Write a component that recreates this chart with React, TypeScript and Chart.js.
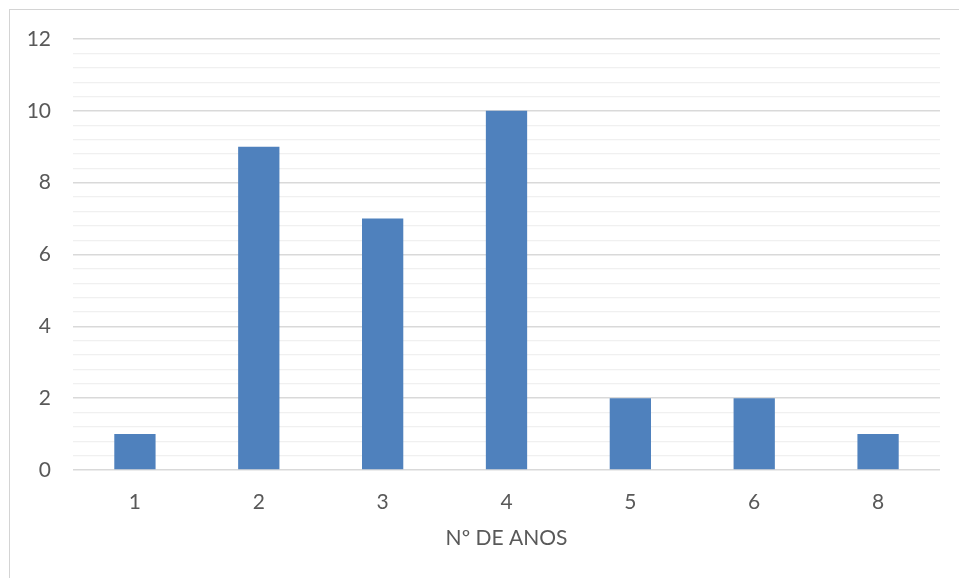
import React, { useEffect, useRef } from "react";
import { Chart, registerables } from "chart.js";

Chart.register(...registerables);

// Number of years (categories) and respondent counts
const categories: string[] = ["1", "2", "3", "4", "5", "6", "8"];
const counts: number[] = [1, 9, 7, 10, 2, 2, 1];

// Value axis
const yMin = 0;
const yMax = 12;
const yMinorStep = 0.4;
const yMajorStep = 2;

const axisTitle = "Nº DE ANOS";

const FONT = "Lato, 'Open Sans', sans-serif";
const TEXT_COLOR = "#595959";
const BAR_COLOR = "#4F81BD";
const MAJOR_GRID = "#d9d9d9";
const MINOR_GRID = "#f0f0f0";

const isMajor = (v: number) =>
  Math.abs(v / yMajorStep - Math.round(v / yMajorStep)) < 1e-6;

export default function App() {
  const canvasRef = useRef<HTMLCanvasElement | null>(null);

  useEffect(() => {
    if (!canvasRef.current) return;
    const chart = new Chart(canvasRef.current, {
      type: "bar",
      data: {
        labels: categories,
        datasets: [
          {
            data: counts,
            backgroundColor: BAR_COLOR,
            borderWidth: 0,
            categoryPercentage: 1,
            barPercentage: 1 / 3,
          },
        ],
      },
      options: {
        animation: false,
        responsive: false,
        maintainAspectRatio: false,
        layout: { padding: { left: 0, right: 19, top: 39, bottom: 0 } },
        plugins: {
          legend: { display: false },
          tooltip: { enabled: false },
        },
        scales: {
          x: {
            grid: { display: false, drawTicks: false },
            border: { display: false },
            ticks: {
              color: TEXT_COLOR,
              font: { family: FONT, size: 21 },
              padding: 20,
            },
            title: {
              display: true,
              text: axisTitle,
              color: TEXT_COLOR,
              font: { family: FONT, size: 21 },
              padding: { top: 0, bottom: 27 },
            },
            afterFit: (scale: any) => {
              scale.height = 108;
            },
          },
          y: {
            min: yMin,
            max: yMax,
            border: { display: false },
            grid: {
              drawTicks: false,
              color: (ctx: any) =>
                ctx.tick && isMajor(ctx.tick.value) ? MAJOR_GRID : MINOR_GRID,
              lineWidth: (ctx: any) =>
                ctx.tick && isMajor(ctx.tick.value) ? 1.5 : 1.2,
            },
            ticks: {
              stepSize: yMinorStep,
              autoSkip: false,
              color: TEXT_COLOR,
              font: { family: FONT, size: 21 },
              padding: 22,
              callback: (v: any) => (isMajor(Number(v)) ? String(Math.round(Number(v))) : ""),
            },
            afterFit: (scale: any) => {
              scale.width = 73;
            },
          },
        },
      },
    });
    return () => chart.destroy();
  }, []);

  return (
    <div
      style={{
        position: "fixed",
        left: 0,
        top: 0,
        width: 959,
        height: 578,
        overflow: "hidden",
        background: "#ffffff",
      }}
    >
      <div
        style={{
          position: "absolute",
          left: 9,
          top: 9,
          width: 980,
          height: 600,
          border: "1px solid #d4d4d4",
          boxSizing: "border-box",
        }}
      />
      <canvas
        ref={canvasRef}
        width={959}
        height={578}
        style={{ position: "absolute", left: 0, top: 0, width: 959, height: 578 }}
      />
    </div>
  );
}
